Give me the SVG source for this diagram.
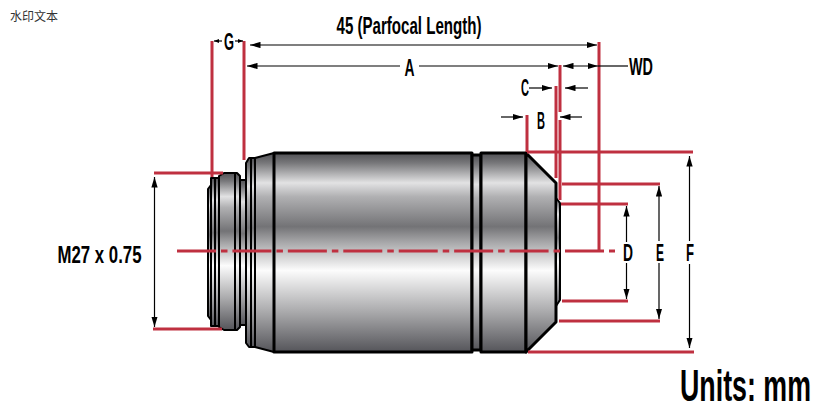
<svg xmlns="http://www.w3.org/2000/svg" width="835" height="418" viewBox="0 0 835 418">
<defs>
<linearGradient id="metal" x1="0" y1="0" x2="0" y2="1">
<stop offset="0" stop-color="#505054"/><stop offset="0.05" stop-color="#77777a"/><stop offset="0.15" stop-color="#e2e2e3"/><stop offset="0.22" stop-color="#b0b0b2"/><stop offset="0.37" stop-color="#737376"/><stop offset="0.45" stop-color="#a8a8aa"/><stop offset="0.59" stop-color="#fcfcfc"/><stop offset="0.8" stop-color="#a9a9ab"/><stop offset="1" stop-color="#55555a"/>
</linearGradient>
<marker id="ah" viewBox="0 0 10 6" refX="10" refY="3" markerWidth="10.5" markerHeight="6.5" markerUnits="userSpaceOnUse" orient="auto-start-reverse"><path d="M0 0L10 3L0 6Z" fill="#000"/></marker>
<marker id="sm" viewBox="0 0 5 4" refX="5" refY="2" markerWidth="5" markerHeight="4" markerUnits="userSpaceOnUse" orient="auto"><path d="M0 0L5 2L0 4Z" fill="#000"/></marker>
</defs>
<style>
.b{stroke:#000;stroke-width:2;fill:url(#metal);stroke-linejoin:round}
.m{stroke:#000;stroke-width:3;fill:url(#metal);stroke-linejoin:round}
.l{stroke:#000;stroke-width:2;fill:none}
.r{stroke:#bf3040;stroke-width:3;fill:none}
.d{stroke:#000;stroke-width:1.2;fill:none}
.a{marker-end:url(#ah)}
.s{marker-start:url(#ah)}
.g{marker-end:url(#sm)}
.t{font-family:"Liberation Sans",sans-serif;font-weight:700;font-size:23px;fill:#000;text-anchor:middle}
</style>
<text x="10" y="21" style="font-family:'Noto Sans CJK SC',sans-serif;font-size:12px;fill:#333">水印文本</text>
<g id="lens">
<path class="b" d="M208 189L211 185V320L208 316Z"/>
<path class="b" d="M211 178H220V326H211Z"/>
<path class="b" d="M219 176L224 173H237L240 176V327L237 330H224L219 327Z"/>
<path class="b" d="M240 180H246V325H240Z"/>
<path class="b" d="M246 163L249 158H255V347H249L246 343Z"/>
<path class="l" d="M251 158V347M215 178V326M235 174V329"/>
<path class="b" d="M255 158L274 153V352L255 347Z"/>
<path class="m" d="M274 153H472V352H274Z"/>
<path class="m" d="M472 155H481V350H472Z"/>
<path class="m" d="M481 153H526V352H481Z"/>
<path class="m" d="M526 153L556 183V322L526 352Z"/>
<path class="b" d="M556 198L560 203V300L556 306Z"/>
</g>
<g id="connectors">
<path class="r" d="M212 41V177M244 41V160M527 115V152M556 86V178M560 65V112M560 120V200M599 42V251"/>
<path class="r" d="M154 173H223M527 152H693M562 184H660M561 204H628M562 301H628M559 321H660M528 352H694M153 329H222"/>
<path class="r" d="M177 251H615" stroke-dasharray="39 5 6.5 4.93"/>
<path class="d s a" d="M250 45H597"/>
<path class="d s" d="M247 66H400"/>
<path class="d a" d="M419 66H558"/>
<path class="d s a" d="M563 66H598"/>
<path class="d" d="M598 66H628"/>
<path class="d g" d="M222 41H214"/>
<path class="d g" d="M235 41H243"/>
<path class="d a" d="M529 88H552"/>
<path class="d a" d="M588 88H565"/>
<path class="d a" d="M501 117H523"/>
<path class="d a" d="M582 117H560"/>
<path class="d s a" d="M154.500 177V327"/>
<path class="d s" d="M626.500 206V242"/>
<path class="d a" d="M626.500 263V299"/>
<path class="d s" d="M659 186V241"/>
<path class="d a" d="M659 263V319"/>
<path class="d s" d="M689.500 156V241"/>
<path class="d a" d="M689.500 264V348"/>
</g>
<g id="labels">
<text class="t" x="409" y="34" textLength="145" lengthAdjust="spacingAndGlyphs">45 (Parfocal Length)</text>
<text class="t" x="229" y="50" textLength="10" lengthAdjust="spacingAndGlyphs">G</text>
<text class="t" x="409.500" y="76" textLength="10" lengthAdjust="spacingAndGlyphs">A</text>
<text class="t" x="641" y="75" textLength="24" lengthAdjust="spacingAndGlyphs">WD</text>
<text class="t" x="525" y="96" textLength="8" lengthAdjust="spacingAndGlyphs">C</text>
<text class="t" x="541" y="129" textLength="8" lengthAdjust="spacingAndGlyphs">B</text>
<text class="t" x="99.500" y="263" textLength="84" lengthAdjust="spacingAndGlyphs">M27 x 0.75</text>
<text class="t" x="628" y="261" textLength="10" lengthAdjust="spacingAndGlyphs">D</text>
<text class="t" x="660" y="261" textLength="8" lengthAdjust="spacingAndGlyphs">E</text>
<text class="t" x="690" y="261" textLength="8" lengthAdjust="spacingAndGlyphs">F</text>
<text class="t" transform="translate(745.500 401) scale(.609 1)" x="0" y="0" style="font-size:44px">Units: mm</text>
</g>
</svg>
